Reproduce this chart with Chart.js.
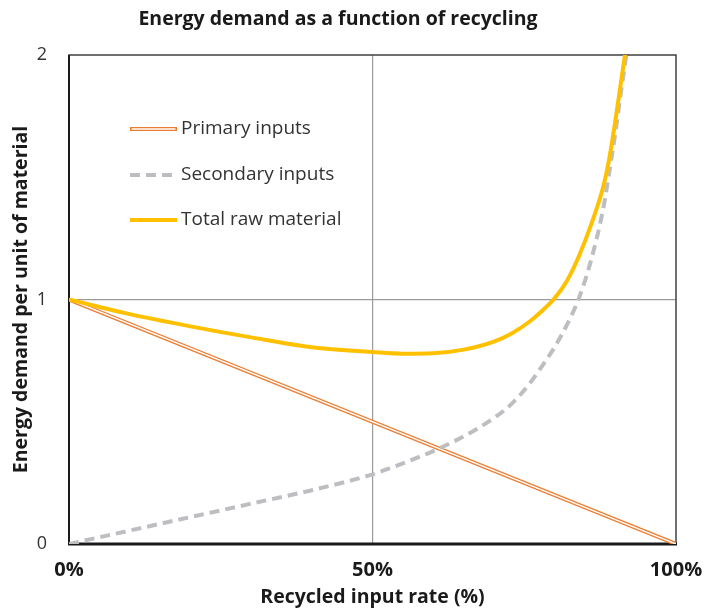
<!DOCTYPE html>
<html>
<head>
<meta charset="utf-8">
<script src="https://cdn.jsdelivr.net/npm/chart.js@4"></script>
<style>
	html, body { margin: 0; padding: 0; background: #ffffff; }
	#wrap { width: 705px; height: 611px; }
</style>
</head>
<body>
<div id="wrap"><canvas id="chart" width="705" height="611"></canvas></div>
<script>
// recycled input rate (%) for the curves
const rate = [0, 10, 20, 30, 40, 50, 55, 60, 65, 70, 73, 76, 78, 80, 82, 84, 86, 88, 89, 90, 91, 92];
const secondaryInputs = [0, 0.055, 0.11, 0.165, 0.22, 0.285, 0.33, 0.38, 0.44, 0.515, 0.575, 0.66, 0.73, 0.805, 0.895, 1.005, 1.16, 1.37, 1.52, 1.68, 1.86, 2.03];
const totalRawMaterial = [1, 0.94, 0.89, 0.845, 0.805, 0.785, 0.778, 0.78, 0.795, 0.828, 0.862, 0.912, 0.955, 1.005, 1.075, 1.177, 1.305, 1.46, 1.575, 1.73, 1.9, 2.07];
// primary inputs is a straight line
const primaryRate = [0, 100];
const primaryInputs = [1, 0];

const xTicks = [0, 50, 100];
const yTicks = [0, 1, 2];

const seriesNames = ['Primary inputs', 'Secondary inputs', 'Total raw material'];

const ORANGE = '#ED7D31';
const GREY = '#BDBEC1';
const YELLOW = '#FFC000';
const FONT = "'Open Sans', 'DejaVu Sans', sans-serif";

function toPoints(xs, ys)
{
	return xs.map((x, i) => ({ x: x, y: ys[i] }));
}

// legend drawn inside the plot, like the original
const innerLegend = {
	id: 'innerLegend',
	afterDraw(chart)
	{
		const ctx = chart.ctx;
		const rows = [129, 175, 220];
		ctx.save();
		ctx.font = '19px ' + FONT;
		ctx.fillStyle = '#333333';
		ctx.textBaseline = 'middle';
		rows.forEach((y, i) => {
			ctx.setLineDash([]);
			if (i === 0) {
				ctx.strokeStyle = ORANGE; ctx.lineWidth = 4;
				ctx.beginPath(); ctx.moveTo(130, y); ctx.lineTo(177, y); ctx.stroke();
				ctx.strokeStyle = '#ffffff'; ctx.lineWidth = 1.4;
				ctx.beginPath(); ctx.moveTo(131.5, y); ctx.lineTo(175.5, y); ctx.stroke();
			} else if (i === 1) {
				ctx.strokeStyle = GREY; ctx.lineWidth = 4;
				ctx.setLineDash([10, 6]);
				ctx.beginPath(); ctx.moveTo(130, y); ctx.lineTo(174, y); ctx.stroke();
			} else {
				ctx.strokeStyle = YELLOW; ctx.lineWidth = 4;
				ctx.beginPath(); ctx.moveTo(130, y); ctx.lineTo(177, y); ctx.stroke();
			}
			ctx.fillText(seriesNames[i], 181, y);
		});
		ctx.restore();
	}
};

// frame round the plot area
const plotFrame = {
	id: 'plotFrame',
	beforeDatasetsDraw(chart)
	{
		const a = chart.chartArea;
		const ctx = chart.ctx;
		ctx.save();
		ctx.strokeStyle = '#404040';
		ctx.lineWidth = 1.5;
		ctx.strokeRect(a.left, a.top, a.right - a.left, a.bottom - a.top);
		ctx.strokeStyle = '#1a1a1a';
		ctx.lineWidth = 3;
		ctx.beginPath(); ctx.moveTo(a.left - 1, a.bottom); ctx.lineTo(a.right + 1, a.bottom); ctx.stroke();
		ctx.lineWidth = 2;
		ctx.beginPath(); ctx.moveTo(a.left, a.top); ctx.lineTo(a.left, a.bottom); ctx.stroke();
		ctx.restore();
	}
};

const data = {
	datasets: [
		{
			label: seriesNames[0],
			data: toPoints(primaryRate, primaryInputs),
			borderColor: ORANGE,
			borderWidth: 4,
			pointRadius: 0,
			order: 3
		},
		{
			label: 'inner',
			data: toPoints(primaryRate, primaryInputs),
			borderColor: '#ffffff',
			borderWidth: 1.4,
			pointRadius: 0,
			order: 2
		},
		{
			label: seriesNames[1],
			data: toPoints(rate, secondaryInputs),
			borderColor: GREY,
			borderWidth: 4,
			borderDash: [10, 6],
			cubicInterpolationMode: 'monotone',
			pointRadius: 0,
			order: 1
		},
		{
			label: seriesNames[2],
			data: toPoints(rate, totalRawMaterial),
			borderColor: YELLOW,
			borderWidth: 4,
			cubicInterpolationMode: 'monotone',
			pointRadius: 0,
			order: 0
		}
	]
};

const config = {
	type: 'line',
	data: data,
	options: {
		responsive: false,
		animation: false,
		layout: { padding: { left: 0, right: 29, top: 0, bottom: 0 } },
		plugins: {
			legend: { display: false },
			tooltip: { enabled: false },
			title: {
				display: true,
				text: 'Energy demand as a function of recycling',
				color: '#1a1a1a',
				font: { family: FONT, size: 19.5, weight: 'bold', lineHeight: 1.2 },
				padding: { top: 8, bottom: 23.6 }
			}
		},
		scales: {
			x: {
				type: 'linear',
				min: 0,
				max: 100,
				afterFit(scale) {
					scale.height = 67;
					scale.paddingLeft = 0;
					scale.paddingRight = 0;
				},
				afterBuildTicks(scale) { scale.ticks = xTicks.map(v => ({ value: v })); },
				border: { display: false },
				grid: {
					drawTicks: false,
					color: c => (c.tick && c.tick.value === 50) ? '#9a9a9a' : 'rgba(0,0,0,0)',
					lineWidth: 1.2
				},
				ticks: {
					padding: 14,
					color: '#1a1a1a',
					font: { family: FONT, size: 20, weight: 'bold' },
					callback: v => v + '%',
					maxRotation: 0
				},
				title: {
					display: true,
					text: 'Recycled input rate (%)',
					color: '#1a1a1a',
					font: { family: FONT, size: 19.5, weight: 'bold', lineHeight: 1.2 },
					padding: { top: 0, bottom: 1.5 }
				}
			},
			y: {
				min: 0,
				max: 2,
				afterFit(scale) { scale.width = 69; },
				afterBuildTicks(scale) { scale.ticks = yTicks.map(v => ({ value: v })); },
				border: { display: false },
				grid: {
					drawTicks: false,
					color: c => (c.tick && c.tick.value === 1) ? '#9a9a9a' : 'rgba(0,0,0,0)',
					lineWidth: 1.2
				},
				ticks: {
					padding: 22,
					color: '#333333',
					font: { family: FONT, size: 18 }
				},
				title: {
					display: true,
					text: 'Energy demand per unit of material',
					color: '#1a1a1a',
					font: { family: FONT, size: 19.5, weight: 'bold', lineHeight: 1.2 },
					padding: { top: 10, bottom: 0 }
				}
			}
		}
	},
	plugins: [plotFrame, innerLegend]
};

const ctx = document.getElementById('chart').getContext('2d');
new Chart(ctx, config);
</script>
</body>
</html>
